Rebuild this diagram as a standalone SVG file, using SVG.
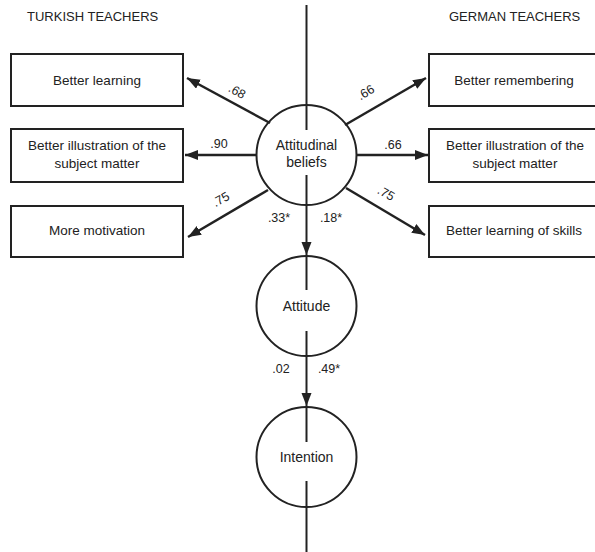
<svg xmlns="http://www.w3.org/2000/svg" width="595" height="552" viewBox="0 0 595 552">
  <style>
    text { font-family: "Liberation Sans", Arial, sans-serif; fill: #222; }
    .hdr { font-size: 13px; }
    .lbl { font-size: 13.5px; text-anchor: middle; }
    .coef { font-size: 12.5px; text-anchor: middle; }
    .box { fill: #fff; stroke: #222; stroke-width: 2; }
    .circ { fill: #fff; stroke: #222; stroke-width: 2; }
    .edge { stroke: #222; stroke-width: 2.5; fill: none; }
    .axis { stroke: #222; stroke-width: 2; fill: none; }
  </style>
  <defs>
    <marker id="arrow" markerUnits="userSpaceOnUse" markerWidth="14" markerHeight="12" refX="13" refY="5" orient="auto">
      <path d="M0,0 L13,5 L0,10 Z" fill="#222"/>
    </marker>
  </defs>

  <rect width="595" height="552" fill="#fff"/>

  <!-- group headings -->
  <text class="hdr" x="27" y="21">TURKISH TEACHERS</text>
  <text class="hdr" x="449" y="21">GERMAN TEACHERS</text>

  <!-- latent variables -->
  <g id="attitudinal-beliefs">
    <circle class="circ" cx="306.5" cy="155" r="50"/>
    <text class="lbl" x="306.5" y="150" style="font-size:14px">Attitudinal</text>
    <text class="lbl" x="306.5" y="167" style="font-size:14px">beliefs</text>
  </g>
  <g id="attitude">
    <circle class="circ" cx="306.5" cy="306" r="50"/>
    <text class="lbl" x="306.5" y="311" style="font-size:14px">Attitude</text>
  </g>
  <g id="intention">
    <circle class="circ" cx="306.5" cy="457" r="50"/>
    <text class="lbl" x="306.5" y="462" style="font-size:14px">Intention</text>
  </g>

  <!-- Turkish indicators -->
  <g id="tr-better-learning">
    <rect class="box" x="11" y="54" width="172" height="52"/>
    <text class="lbl" x="97" y="85">Better learning</text>
  </g>
  <g id="tr-better-illustration">
    <rect class="box" x="11" y="129" width="172" height="53"/>
    <text class="lbl" x="97" y="150">Better illustration of the</text>
    <text class="lbl" x="97" y="168">subject matter</text>
  </g>
  <g id="tr-more-motivation">
    <rect class="box" x="11" y="206" width="172" height="51"/>
    <text class="lbl" x="97" y="235">More motivation</text>
  </g>

  <!-- German indicators -->
  <g id="de-better-remembering">
    <rect class="box" x="429" y="54" width="172" height="52"/>
    <text class="lbl" x="514" y="85">Better remembering</text>
  </g>
  <g id="de-better-illustration">
    <rect class="box" x="429" y="129" width="172" height="53"/>
    <text class="lbl" x="515" y="150">Better illustration of the</text>
    <text class="lbl" x="515" y="168">subject matter</text>
  </g>
  <g id="de-better-learning-skills">
    <rect class="box" x="429" y="206" width="172" height="51"/>
    <text class="lbl" x="514" y="235">Better learning of skills</text>
  </g>

  <!-- connectors -->
  <g id="connectors">
    <!-- dividing axis / structural paths -->
    <line class="axis" x1="306.5" y1="5" x2="306.5" y2="130"/>
    <line class="axis" x1="306.5" y1="175" x2="306.5" y2="255" marker-end="url(#arrow)"/>
    <line class="axis" x1="306.5" y1="255" x2="306.5" y2="290"/>
    <line class="axis" x1="306.5" y1="331" x2="306.5" y2="406" marker-end="url(#arrow)"/>
    <line class="axis" x1="306.5" y1="406" x2="306.5" y2="442"/>
    <line class="axis" x1="306.5" y1="481" x2="306.5" y2="552"/>

    <!-- Turkish loadings -->
    <line class="edge" x1="270" y1="123" x2="187" y2="78" marker-end="url(#arrow)"/>
    <line class="edge" x1="257" y1="155" x2="185" y2="155" marker-end="url(#arrow)"/>
    <line class="edge" x1="268" y1="190" x2="188" y2="237" marker-end="url(#arrow)"/>

    <!-- German loadings -->
    <line class="edge" x1="345" y1="125" x2="426" y2="78" marker-end="url(#arrow)"/>
    <line class="edge" x1="356" y1="155" x2="428" y2="155" marker-end="url(#arrow)"/>
    <line class="edge" x1="346" y1="188" x2="425" y2="235" marker-end="url(#arrow)"/>
  </g>

  <!-- path coefficients -->
  <g id="coefficients">
    <text class="coef" transform="translate(235,95) rotate(30)">.68</text>
    <text class="coef" x="219" y="148">.90</text>
    <text class="coef" transform="translate(223,203) rotate(-30)">.75</text>
    <text class="coef" transform="translate(368,96) rotate(-31)">.66</text>
    <text class="coef" x="393" y="149">.66</text>
    <text class="coef" transform="translate(384,197) rotate(30)">.75</text>
    <text class="coef" x="279" y="222">.33*</text>
    <text class="coef" x="331" y="222">.18*</text>
    <text class="coef" x="281" y="373">.02</text>
    <text class="coef" x="329" y="373">.49*</text>
  </g>
</svg>
